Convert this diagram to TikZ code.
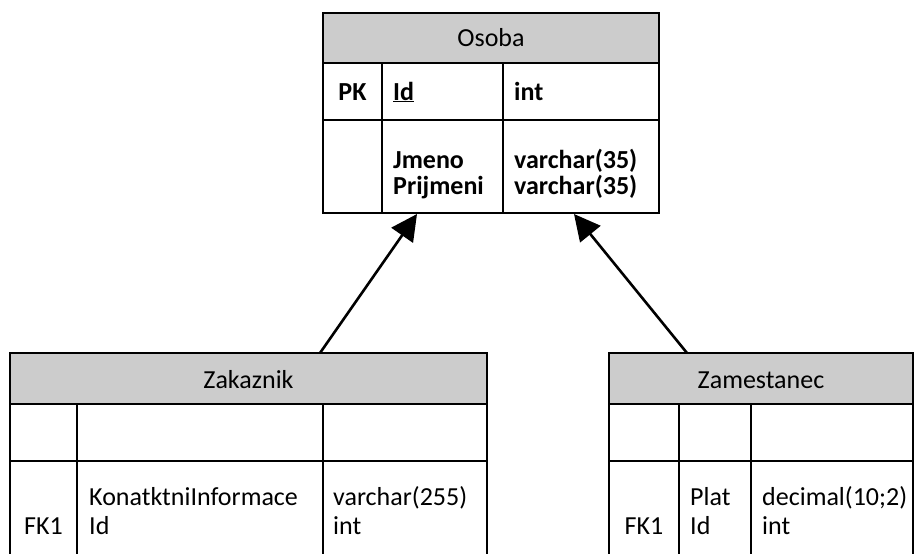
\documentclass[tikz,border=0pt]{standalone}
\usepackage{fontspec}
\setmainfont{Carlito}
\usetikzlibrary{arrows.meta}
\definecolor{headgray}{RGB}{204,204,204}
\tikzset{
  cell/.style={draw=black, line width=2pt, rectangle, anchor=north west, inner sep=0pt, outer sep=0pt},
  headcell/.style={cell, fill=headgray},
  txt/.style={anchor=base west, inner sep=0pt, font=\fontsize{26}{30}\selectfont},
  ctxt/.style={anchor=base, inner sep=0pt, font=\fontsize{26}{30}\selectfont},
  inherit/.style={line width=2.6pt, -{Triangle[length=26pt,width=26pt]}},
}
\begin{document}
\begin{tikzpicture}[x=1pt,y=-1pt]
\useasboundingbox (0,0) rectangle (914,554);
\clip (0,0) rectangle (914,554);

% ---------- Osoba ----------
\node[headcell, minimum width=336pt, minimum height=50pt] (osH) at (323,13) {};
\node[cell, minimum width=59pt,  minimum height=57pt] (osA1) at (323,63) {};
\node[cell, minimum width=121pt, minimum height=57pt] (osB1) at (382,63) {};
\node[cell, minimum width=156pt, minimum height=57pt] (osC1) at (503,63) {};
\node[cell, minimum width=59pt,  minimum height=93pt] (osA2) at (323,120) {};
\node[cell, minimum width=121pt, minimum height=93pt] (osB2) at (382,120) {};
\node[cell, minimum width=156pt, minimum height=93pt] (osC2) at (503,120) {};
\node[ctxt] (osT) at (491,46) {Osoba};
\node[ctxt] (osPK) at (352.5,100) {\bfseries PK};
\node[txt] (osId) at (393,100) {\bfseries\underline{Id}};
\node[txt] (osInt) at (514,100) {\bfseries int};
\node[txt] (osJm) at (393,168) {\bfseries Jmeno};
\node[txt] (osPr) at (393,194) {\bfseries Prijmeni};
\node[txt] (osV1) at (514,168) {\bfseries varchar(35)};
\node[txt] (osV2) at (514,194) {\bfseries varchar(35)};

% ---------- Zakaznik ----------
\node[headcell, minimum width=477pt, minimum height=51pt] (zkH) at (10,353) {};
\node[cell, minimum width=67pt,  minimum height=57pt] (zkA1) at (10,404) {};
\node[cell, minimum width=246pt, minimum height=57pt] (zkB1) at (77,404) {};
\node[cell, minimum width=164pt, minimum height=57pt] (zkC1) at (323,404) {};
\node[cell, minimum width=67pt,  minimum height=110pt] (zkA2) at (10,461) {};
\node[cell, minimum width=246pt, minimum height=110pt] (zkB2) at (77,461) {};
\node[cell, minimum width=164pt, minimum height=110pt] (zkC2) at (323,461) {};
\node[ctxt] (zkT) at (248.5,388) {Zakaznik};
\node[ctxt] (zkFK) at (43.5,534) {FK1};
\node[txt] (zkK) at (89,505) {KonatktniInformace};
\node[txt] (zkId) at (89,534) {Id};
\node[txt] (zkV) at (333,505) {varchar(255)};
\node[txt] (zkI) at (333,534) {int};

% ---------- Zamestanec ----------
\node[headcell, minimum width=304pt, minimum height=51pt] (zmH) at (609,353) {};
\node[cell, minimum width=70pt,  minimum height=57pt] (zmA1) at (609,404) {};
\node[cell, minimum width=72pt,  minimum height=57pt] (zmB1) at (679,404) {};
\node[cell, minimum width=162pt, minimum height=57pt] (zmC1) at (751,404) {};
\node[cell, minimum width=70pt,  minimum height=110pt] (zmA2) at (609,461) {};
\node[cell, minimum width=72pt,  minimum height=110pt] (zmB2) at (679,461) {};
\node[cell, minimum width=162pt, minimum height=110pt] (zmC2) at (751,461) {};
\node[ctxt] (zmT) at (761,388) {Zamestanec};
\node[ctxt] (zmFK) at (644,534) {FK1};
\node[txt] (zmP) at (690,505) {Plat};
\node[txt] (zmId) at (690,534) {Id};
\node[txt] (zmD) at (762,505) {decimal(10;2)};
\node[txt] (zmI) at (762,534) {int};

% ---------- generalisation arrows ----------
\coordinate (zkOut) at (320,353);
\coordinate (zmOut) at (687,353);
\coordinate (osInL) at (417,214);
\coordinate (osInR) at (574,214);
\draw[inherit] (zkOut) -- (osInL);
\draw[inherit] (zmOut) -- (osInR);
\end{tikzpicture}
\end{document}
